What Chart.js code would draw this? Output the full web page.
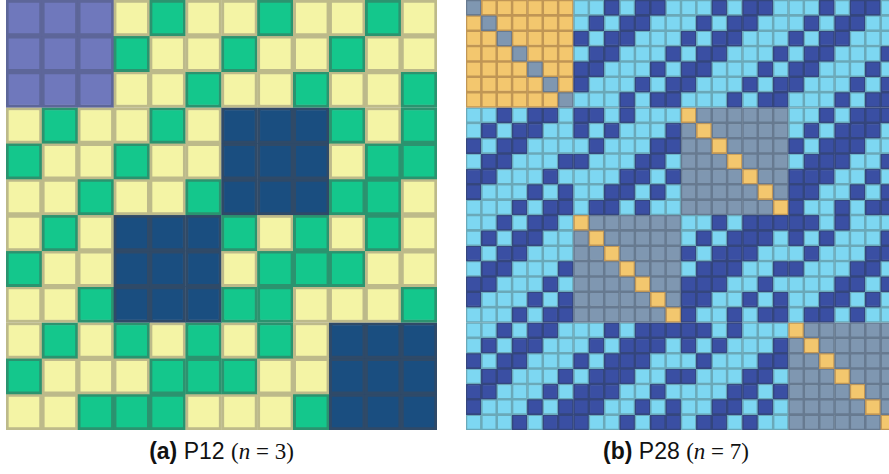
<!DOCTYPE html>
<html>
<head>
<meta charset="utf-8">
<script src="https://cdn.jsdelivr.net/npm/chart.js@4/dist/chart.umd.min.js"></script>
<style>
  html, body { margin: 0; padding: 0; background: #fff; }
  body { width: 889px; height: 474px; overflow: hidden; position: relative; }
  .panel { position: absolute; top: 0; height: 430px; }
  .cap {
    position: absolute; top: 438px; text-align: center;
    font-family: "Liberation Sans", "DejaVu Sans", sans-serif; font-size: 23px; color: #111;
  }
  .cap .m { font-family: "Liberation Serif", "DejaVu Serif", serif; }
  canvas { filter: blur(0.6px); }
</style>
</head>
<body>
<div class="panel" style="left:6px;width:431px"><canvas id="p12" width="431" height="430"></canvas></div>
<div class="panel" style="left:466px;width:430px"><canvas id="p28" width="430" height="430"></canvas></div>
<div class="cap" style="left:0;width:443px"><b>(a)</b> P12 <span class="m">(<i>n</i> = 3)</span></div>
<div class="cap" style="left:454px;width:444px"><b>(b)</b> P28 <span class="m">(<i>n</i> = 7)</span></div>
<script>
// P12: one string per row, one letter per cell
// P = first block, Y / G = the two entry kinds, B = blocks
const p12Rows = [
  "PPPYGYYGYYGY",
  "PPPGYYGYYGYY",
  "PPPYYGYYGYYG",
  "YGYYGYBBBGYG",
  "GYYGYYBBBYGG",
  "YYGYYGBBBGGY",
  "YGYBBBGYGYGY",
  "GYYBBBYGGGYY",
  "YYGBBBGGYYYG",
  "YGYGYGYGYBBB",
  "GYYYGGGYYBBB",
  "YYGGGYYYGBBB"
];

// P28: O = orange, G = grey, L = light blue, D = dark blue
const p28Rows = [
  "GOOOOOOLLDLDDLLLDLDDLLLDLDDL",
  "OGOOOOOLDLDDLLLDLDDLLLDLDDLL",
  "OOGOOOODLDDLLLDLDDLLLDLDDLLL",
  "OOOGOOOLDDLLLDLDDLLLDLDDLLLD",
  "OOOOGOODDLLLDLDDLLLDLDDLLLDL",
  "OOOOOGODLLLDLDDLLLDLDDLLLDLD",
  "OOOOOOGLLLDLDDLLLDLDDLLLDLDD",
  "LLDLDDLDDLDLLLOGGGGGGLLDLDDD",
  "LDLDDLLDLDLLLDGOGGGGGLDLDDDL",
  "DLDDLLLLDLLLDDGGOGGGGDLDDDLL",
  "LDDLLLDDLLLDDLGGGOGGGLDDDLLD",
  "DDLLLDLLLLDDLDGGGGOGGDDDLLDL",
  "DLLLDLDLLDDLDLGGGGGOGDDLLDLD",
  "LLLDLDDLDDLDLLGGGGGGODLLDLDD",
  "LLDLDDLOGGGGGGLLDLDDDDDLDLLL",
  "LDLDDLLGOGGGGGLDLDDDLDLDLLLD",
  "DLDDLLLGGOGGGGDLDDDLLLDLLLDD",
  "LDDLLLDGGGOGGGLDDDLLDDLLLDDL",
  "DDLLLDLGGGGOGGDDDLLDLLLLDDLD",
  "DLLLDLDGGGGGOGDDLLDLDLLDDLDL",
  "LLLDLDDGGGGGGODLLDLDDLDDLDLL",
  "LLDLDDLLLDLDDDDDLDLLLOGGGGGG",
  "LDLDDLLLDLDDDLDLDLLLDGOGGGGG",
  "DLDDLLLDLDDDLLLDLLLDDGGOGGGG",
  "LDDLLLDLDDDLLDDLLLDDLGGGOGGG",
  "DDLLLDLDDDLLDLLLLDDLDGGGGOGG",
  "DLLLDLDDDLLDLDLLDDLDLGGGGGOG",
  "LLLDLDDDLLDLDDLDDLDLLGGGGGGO"
];

// cell fill and edge colours for each letter
const p12Fill = { P: "#6f78bc", Y: "#f4f4a5", G: "#14c78c", B: "#1a4e80" };
const p12Edge = { P: "#5d6699", Y: "#bdba8a", G: "#2b936f", B: "#2f4a68" };
const p28Fill = { O: "#f3c76e", G: "#7f97b1", L: "#7dd7f2", D: "#3a4fa3" };
const p28Edge = { O: "#c09655", G: "#677a90", L: "#6aa9b9", D: "#34467e" };

function drawMatrix(id, rows, fill, edge, border) {
    const n = rows.length;
    const labels = rows.map((_, i) => String(i));
    // every row is one dataset of floating bars [r, r+1], one bar per column
    const datasets = rows.map((row, r) => {
        const cells = row.split("");
        return {
            data: cells.map(() => [r, r + 1]),
            backgroundColor: cells.map(k => fill[k]),
            borderColor: cells.map(k => edge[k]),
            borderWidth: border,
            borderSkipped: false,
            grouped: false,
            barPercentage: 1,
            categoryPercentage: 1
        };
    });
    const ctx = document.getElementById(id).getContext("2d");
    new Chart(ctx, {
        type: "bar",
        data: { labels: labels, datasets: datasets },
        options: {
            responsive: false,
            animation: false,
            layout: { padding: 0 },
            plugins: { legend: { display: false }, tooltip: { enabled: false } },
            scales: {
                x: { display: false },
                y: { display: false, min: 0, max: n, reverse: true }
            }
        }
    });
}

drawMatrix("p12", p12Rows, p12Fill, p12Edge, 3);
drawMatrix("p28", p28Rows, p28Fill, p28Edge, 1.6);
</script>
</body>
</html>
